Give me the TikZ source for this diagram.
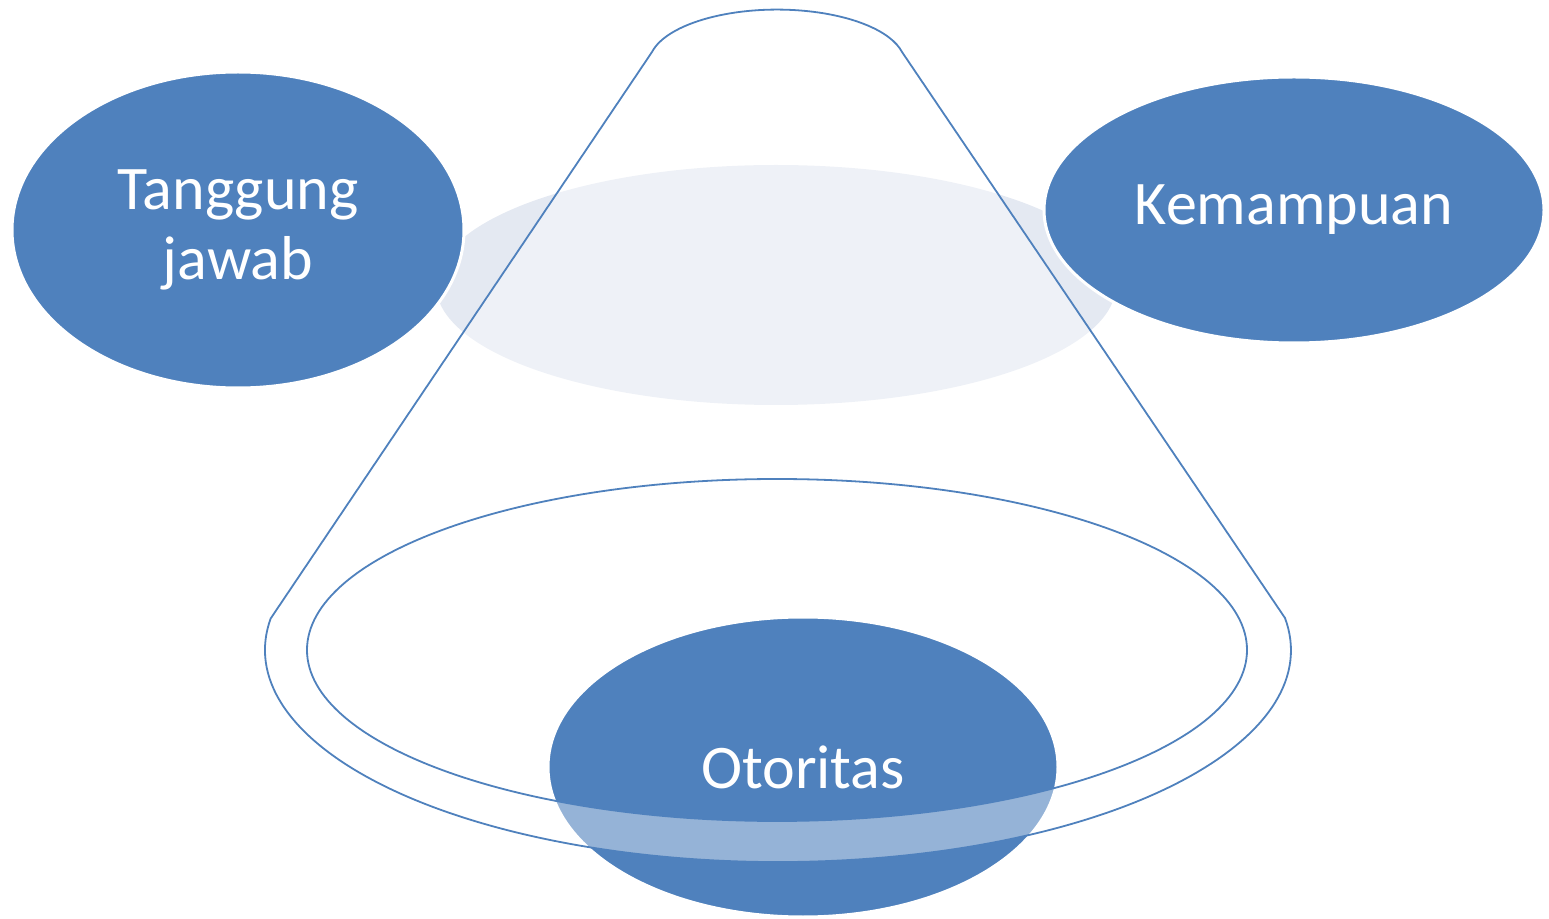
\documentclass[tikz,border=0pt]{standalone}
\usepackage{fontspec}
\setmainfont{Carlito}
\usetikzlibrary{shapes.geometric}
\definecolor{accent}{RGB}{79,129,189}
\definecolor{paleblue}{RGB}{228,233,242}
\tikzset{
  blob/.style={ellipse,fill=accent,draw=white,line width=1.5pt,inner sep=0pt,
    text=white,align=center,font=\fontsize{31}{35}\selectfont},
  rim/.style={draw=accent,line width=0.9pt,line join=round}
}
\begin{document}
\begin{tikzpicture}[x=0.5pt,y=-0.5pt]
\useasboundingbox (0,0) rectangle (1549,919);
\begin{scope}[fill=paleblue]
\fill (776,285) ellipse [x radius=340, y radius=120];
\end{scope}
\node[blob,minimum width=226pt,minimum height=158pt] (tanggung) at (238,230) {Tanggung\\jawab};
\node[blob,minimum width=250pt,minimum height=133pt] (kemampuan) at (1294,210) {Kemampuan};
\node[blob,minimum width=255pt,minimum height=150pt] (otoritas) at (803,767) {Otoritas};
\begin{scope}[fill=white,fill opacity=0.4,even odd rule]
\fill (271,618) -- (652,52) arc [start angle=192.4, end angle=347.6, x radius=128, y radius=54]
  -- (1285,618) arc [start angle=-8.7, end angle=188.7, x radius=513, y radius=212] -- cycle
  (777,650) ellipse [x radius=470, y radius=171];
\end{scope}
\begin{scope}[rim]
\draw (271,618) -- (652,52) arc [start angle=192.4, end angle=347.6, x radius=128, y radius=54]
  -- (1285,618) arc [start angle=-8.7, end angle=188.7, x radius=513, y radius=212] -- cycle;
\draw (777,650) ellipse [x radius=470, y radius=171];
\end{scope}
\end{tikzpicture}
\end{document}
